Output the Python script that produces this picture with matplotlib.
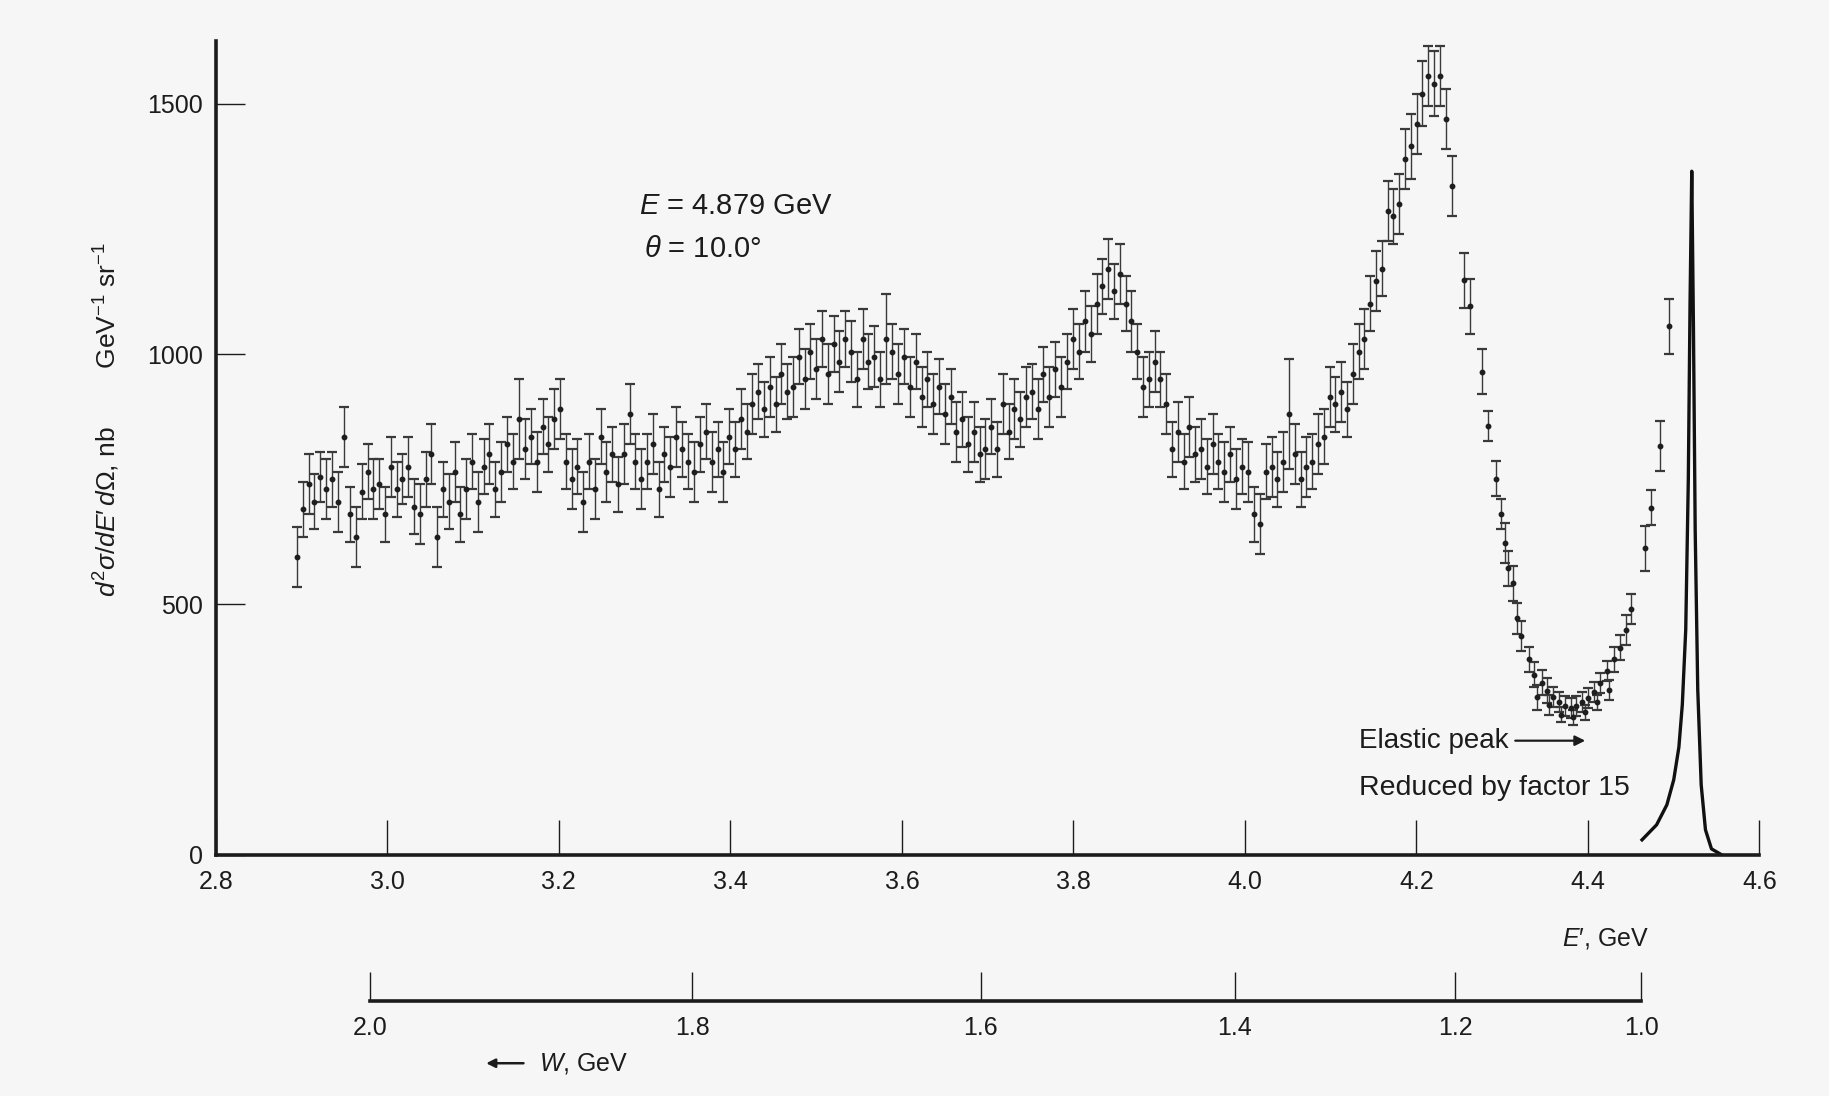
import numpy as np
import matplotlib.pyplot as plt

plt.rcParams['font.family'] = ['Liberation Sans', 'DejaVu Sans']
plt.rcParams['mathtext.fontset'] = 'custom'
plt.rcParams['mathtext.rm'] = 'Liberation Sans'
plt.rcParams['mathtext.it'] = 'Liberation Sans:italic'

# ---------------- scan data (E' in GeV, cross section in nb/GeV/sr) ----------------
e_scan = [
    2.895, 2.902, 2.909, 2.915, 2.922, 2.929, 2.936, 2.943, 2.949, 2.956,
    2.963, 2.970, 2.977, 2.983, 2.990, 2.997, 3.004, 3.011, 3.017, 3.024,
    3.031, 3.038, 3.045, 3.051, 3.058, 3.065, 3.072, 3.079, 3.085, 3.092,
    3.099, 3.106, 3.113, 3.119, 3.126, 3.133, 3.140, 3.147, 3.153, 3.160,
    3.167, 3.174, 3.181, 3.187, 3.194, 3.201, 3.208, 3.215, 3.221, 3.228,
    3.235, 3.242, 3.249, 3.255, 3.262, 3.269, 3.276, 3.283, 3.289, 3.296,
    3.303, 3.310, 3.317, 3.323, 3.330, 3.337, 3.344, 3.351, 3.357, 3.364,
    3.371, 3.378, 3.385, 3.391, 3.398, 3.405, 3.412, 3.419, 3.425, 3.432,
    3.439, 3.446, 3.453, 3.459, 3.466, 3.473, 3.480, 3.487, 3.493, 3.500,
    3.507, 3.514, 3.521, 3.527, 3.534, 3.541, 3.548, 3.555, 3.561, 3.568,
    3.575, 3.582, 3.589, 3.595, 3.602, 3.609, 3.616, 3.623, 3.629, 3.636,
    3.643, 3.650, 3.657, 3.663, 3.670, 3.677, 3.684, 3.691, 3.697, 3.704,
    3.711, 3.718, 3.725, 3.731, 3.738, 3.745, 3.752, 3.759, 3.765, 3.772,
    3.779, 3.786, 3.793, 3.799, 3.806, 3.813, 3.820, 3.827, 3.833, 3.840,
    3.847, 3.854, 3.861, 3.867, 3.874, 3.881, 3.888, 3.895, 3.901, 3.908,
    3.915, 3.922, 3.929, 3.935, 3.942, 3.949, 3.956, 3.963, 3.969, 3.976,
    3.983, 3.990, 3.997, 4.003, 4.010, 4.017, 4.024, 4.031, 4.037, 4.044,
    4.051, 4.058, 4.065, 4.071, 4.078, 4.085, 4.092, 4.099, 4.105, 4.112,
    4.119, 4.126, 4.133, 4.139, 4.146, 4.153, 4.160, 4.167, 4.173, 4.180,
    4.187, 4.194, 4.201, 4.207, 4.214, 4.221, 4.228, 4.235, 4.241,
]
xs_scan = [
    595, 690, 740, 705, 755, 730, 750, 705, 835, 680,
    635, 725, 765, 730, 740, 680, 775, 730, 750, 775,
    695, 680, 750, 800, 635, 730, 705, 765, 680, 730,
    785, 705, 775, 800, 730, 765, 820, 785, 870, 810,
    835, 785, 855, 820, 870, 890, 785, 750, 775, 705,
    785, 730, 835, 765, 800, 740, 800, 880, 785, 750,
    785, 820, 730, 800, 775, 835, 810, 785, 765, 820,
    845, 785, 810, 765, 835, 810, 870, 845, 900, 925,
    890, 935, 900, 960, 925, 935, 995, 950, 1005, 970,
    1030, 960, 1020, 985, 1030, 1005, 950, 1030, 985, 995,
    950, 1030, 1005, 960, 995, 935, 985, 915, 950, 900,
    935, 880, 915, 845, 870, 820, 845, 800, 810, 855,
    810, 900, 845, 890, 870, 915, 925, 890, 960, 915,
    970, 935, 985, 1030, 1005, 1065, 1040, 1100, 1135, 1170,
    1125, 1160, 1100, 1065, 1005, 935, 950, 985, 950, 900,
    810, 845, 785, 855, 800, 810, 775, 820, 785, 765,
    800, 750, 775, 765, 680, 660, 765, 775, 750, 785,
    880, 800, 750, 775, 785, 820, 835, 915, 900, 925,
    890, 960, 1005, 1030, 1100, 1145, 1170, 1285, 1275, 1300,
    1390, 1415, 1460, 1520, 1555, 1540, 1555, 1470, 1335,
]
err_scan = [
    60, 55, 60, 55, 50, 60, 55, 60, 60, 55,
    60, 55, 55, 60, 50, 55, 60, 55, 50, 60,
    55, 60, 55, 60, 60, 55, 55, 60, 55, 60,
    55, 60, 55, 60, 55, 60, 55, 55, 80, 60,
    55, 60, 55, 55, 60, 60, 55, 60, 55, 60,
    55, 60, 55, 60, 55, 55, 60, 60, 55, 60,
    55, 60, 55, 55, 60, 60, 55, 55, 60, 55,
    55, 60, 55, 60, 55, 55, 60, 55, 60, 55,
    55, 60, 55, 60, 55, 60, 55, 60, 55, 60,
    55, 60, 55, 60, 55, 60, 55, 60, 55, 60,
    55, 90, 55, 60, 55, 60, 55, 60, 55, 60,
    55, 60, 55, 60, 55, 55, 60, 55, 60, 55,
    55, 60, 55, 60, 55, 60, 55, 60, 55, 60,
    55, 60, 55, 60, 55, 60, 55, 60, 55, 60,
    55, 60, 55, 60, 55, 60, 55, 60, 55, 60,
    55, 60, 55, 60, 55, 60, 55, 60, 55, 60,
    55, 60, 55, 60, 55, 60, 55, 60, 55, 60,
    110, 60, 55, 60, 55, 60, 55, 60, 55, 60,
    55, 60, 55, 60, 55, 60, 55, 60, 55, 60,
    60, 65, 60, 65, 60, 65, 60, 60, 60,
]

# falling edge, dip and rise towards the elastic peak
e_tail = [4.256, 4.263, 4.276, 4.284, 4.293, 4.298, 4.303, 4.307, 4.313, 4.317,
          4.322, 4.331, 4.337, 4.346, 4.352, 4.359, 4.366, 4.373, 4.380, 4.386,
          4.393, 4.400, 4.407, 4.414, 4.422, 4.430, 4.437, 4.444, 4.450, 4.467,
          4.473, 4.484, 4.495]
xs_tail = [1147, 1095, 965, 856, 751, 681, 623, 572, 542, 472,
           437, 391, 360, 344, 328, 316, 305, 298, 293, 298,
           305, 314, 326, 344, 367, 391, 414, 449, 491, 612,
           693, 816, 1055]
err_tail = [55, 55, 45, 30, 35, 30, 40, 35, 35, 30,
            30, 25, 25, 25, 25, 20, 20, 20, 20, 20,
            20, 20, 20, 20, 20, 25, 25, 30, 30, 45,
            35, 50, 55]

# second run through the dip
e_dip = [4.341, 4.355, 4.369, 4.383, 4.397, 4.411, 4.425]
xs_dip = [315, 300, 280, 275, 285, 305, 330]
err_dip = [25, 20, 15, 15, 15, 15, 20]

# elastic peak (reduced by factor 15)
e_elastic = [4.463, 4.480, 4.492, 4.500, 4.506, 4.510, 4.514, 4.517, 4.519,
             4.521, 4.523, 4.525, 4.528, 4.532, 4.537, 4.544, 4.556]
xs_elastic = [30, 60, 100, 150, 215, 300, 450, 750, 1100,
              1365, 1050, 650, 330, 140, 50, 12, 0]

e_ticks = [2.8, 3.0, 3.2, 3.4, 3.6, 3.8, 4.0, 4.2, 4.4, 4.6]
xs_ticks = [0, 500, 1000, 1500]
w_ticks = [2.0, 1.8, 1.6, 1.4, 1.2, 1.0]

# kinematics for the W scale
E0 = 4.879
theta = 10.0
M = 0.938
s2 = np.sin(np.radians(theta / 2)) ** 2


def e_to_w(ep):
    w2 = M ** 2 + 2 * M * (E0 - ep) - 4 * E0 * ep * s2
    return np.sqrt(np.clip(w2, 1e-6, None))


def w_to_e(w):
    return (M ** 2 + 2 * M * E0 - np.asarray(w) ** 2) / (2 * M + 4 * E0 * s2)


ink = '#1c1c1c'
fs_tick = 18
fs_note = 21

fig = plt.figure(figsize=(18.29, 10.96), dpi=100, facecolor='#f6f6f6')
ax = fig.add_axes([0.118, 0.22, 0.844, 0.7426])
ax.set_facecolor('none')
ax.set_xlim(2.8, 4.6)
ax.set_ylim(0, 1625)

for side in ['top', 'right']:
    ax.spines[side].set_visible(False)
for side in ['left', 'bottom']:
    ax.spines[side].set_linewidth(2.6)
    ax.spines[side].set_color(ink)

kw = dict(fmt='o', ms=3.2, color='#1e1e1e', ecolor='#3a3a3a', elinewidth=1.0,
          capsize=3.8, capthick=1.6)
ax.errorbar(e_scan, xs_scan, yerr=err_scan, **kw)
ax.errorbar(e_tail, xs_tail, yerr=err_tail, **kw)
ax.errorbar(e_dip, xs_dip, yerr=err_dip, **kw)
ax.plot(e_elastic, xs_elastic, color='#111111', lw=2.4)

ax.set_xticks(e_ticks)
ax.set_xticklabels([f'{v:.1f}' for v in e_ticks])
ax.set_yticks(xs_ticks)
ax.set_yticklabels([str(v) for v in xs_ticks])
ax.tick_params(axis='x', direction='in', length=25, width=1.0, pad=11,
               labelsize=fs_tick, colors=ink)
ax.tick_params(axis='y', direction='in', length=21, width=1.0, pad=9,
               labelsize=fs_tick, colors=ink)

# W scale below
secax = ax.secondary_xaxis(-0.179, functions=(e_to_w, w_to_e))
secax.set_xticks(w_ticks)
secax.set_xticklabels([f'{v:.1f}' for v in w_ticks])
secax.spines['bottom'].set_bounds(1.0, 2.0)
secax.spines['bottom'].set_linewidth(2.6)
secax.spines['bottom'].set_color(ink)
secax.tick_params(axis='x', direction='in', length=21, width=1.0, pad=11,
                  labelsize=fs_tick, colors=ink)

# labels and notes
fig.text(0.0585, 0.617,
         r"$d^{2}\sigma/dE$′$\,d\Omega$, nb        GeV$^{-1}$ sr$^{-1}$",
         rotation=90, ha='center', va='center', fontsize=19, color=ink)
ax.text(3.294, 1296, r'$E$ = 4.879 GeV', fontsize=fs_note, va='center', color=ink)
ax.text(3.299, 1210, r'$\theta$ = 10.0°', fontsize=fs_note, va='center', color=ink)
ax.text(4.133, 228, 'Elastic peak', fontsize=fs_note - 1, va='center', color=ink)
ax.annotate('', xy=(4.400, 228), xytext=(4.312, 228),
            arrowprops=dict(arrowstyle='-|>', color=ink, lw=1.6,
                            mutation_scale=15))
ax.text(4.133, 133, 'Reduced by factor 15', fontsize=fs_note - 0.5, va='center',
        color=ink)
ax.text(4.42, -167, r"$E$′, GeV", fontsize=fs_tick, ha='center',
        va='center', color=ink)
ax.annotate('', xy=(3.112, -416), xytext=(3.162, -416),
            arrowprops=dict(arrowstyle='-|>', color=ink, lw=1.8,
                            mutation_scale=13), annotation_clip=False)
ax.text(3.177, -416, r'$W$, GeV', fontsize=fs_tick, va='center', color=ink)

fig.savefig('out.png', dpi=100, facecolor=fig.get_facecolor())
